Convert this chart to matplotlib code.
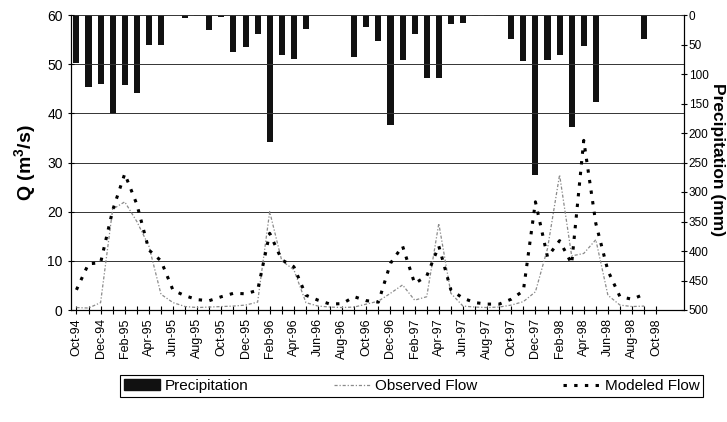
import matplotlib
matplotlib.use("Agg")
import matplotlib.pyplot as plt
from matplotlib.patches import Patch
from matplotlib.lines import Line2D
import numpy as np

plt.rcParams['font.family'] = ['Liberation Sans', 'DejaVu Sans']
plt.rcParams['mathtext.fontset'] = 'custom'
plt.rcParams['mathtext.rm'] = 'Liberation Sans:bold'
plt.rcParams['mathtext.bf'] = 'Liberation Sans:bold'

# Monthly series from Oct-94 to Oct-98
tick_labels = ["Oct-94", "Dec-94", "Feb-95", "Apr-95", "Jun-95", "Aug-95", "Oct-95",
               "Dec-95", "Feb-96", "Apr-96", "Jun-96", "Aug-96", "Oct-96", "Dec-96",
               "Feb-97", "Apr-97", "Jun-97", "Aug-97", "Oct-97", "Dec-97", "Feb-98",
               "Apr-98", "Jun-98", "Aug-98", "Oct-98"]

precip = [81, 122, 117, 167, 118, 132, 50, 50, 0, 5, 2, 25,
          4, 63, 54, 33, 215, 68, 75, 23, 0, 0, 0, 71,
          21, 44, 186, 76, 33, 107, 106, 16, 13, 1, 2, 2,
          41, 78, 271, 76, 68, 190, 52, 147, 0, 0, 0, 40, 0]

observed = [0.5, 0.4, 1.5, 20.5, 22.0, 18.0, 13.0, 3.2, 1.5, 0.7, 0.5, 0.6,
            0.7, 0.8, 1.0, 1.6, 20.0, 10.0, 8.2, 1.5, 0.8, 0.6, 0.5, 0.6,
            1.2, 1.8, 3.4, 5.1, 2.0, 2.7, 17.6, 3.4, 0.8, 0.6, 0.5, 0.6,
            1.0, 1.7, 3.7, 12.5, 27.5, 11.0, 11.5, 14.3, 3.0, 1.0, 0.7, 0.8]

modeled = [4.1, 9.4, 9.6, 20.3, 27.7, 21.5, 12.2, 10.0, 4.0, 2.9, 2.1, 1.9,
           2.7, 3.4, 3.3, 4.0, 15.6, 10.2, 8.8, 3.0, 2.0, 1.2, 1.3, 2.7,
           1.9, 1.6, 9.5, 13.0, 5.4, 6.9, 13.0, 4.1, 2.4, 1.5, 1.2, 1.2,
           2.2, 3.9, 22.0, 10.8, 14.1, 9.4, 34.5, 17.6, 8.0, 2.7, 2.2, 3.2]

OBS_STYLE = (0, (2.5, 1.5, 1, 1.5))
MOD_STYLE = (0, (1.1, 2.4))

fig = plt.figure(figsize=(7.27, 4.22), dpi=100)
ax = fig.add_axes([71/727, 1-310/422, (684-71)/727, (310-15)/422])
ax2 = ax.twinx()

x_p = np.arange(len(precip))
ax2.bar(x_p, precip, width=0.5, color='#111111', bottom=0, align='center')
ax2.set_ylim(500, 0)
ax2.set_yticks(np.arange(0, 501, 50))
ax2.tick_params(axis='y', labelsize=8.5, direction='inout', length=5, width=0.8, pad=1)
fig.text(717.6/727, 1-160/422, "Precipitation (mm)", fontsize=12.5, fontweight='bold',
         rotation=-90, ha='center', va='center')

ax.set_zorder(ax2.get_zorder() + 1)
ax.patch.set_visible(False)

x_q = np.arange(len(observed))
ax.plot(x_q, observed, color='#8a8a8a', lw=0.9, linestyle=OBS_STYLE)
ax.plot(np.arange(len(modeled)), modeled, color='black', lw=2.2,
        linestyle=MOD_STYLE)

ax.set_ylim(0, 60)
ax.set_yticks(np.arange(0, 61, 10))
ax.set_xlim(-0.45, 50.3)
ax.set_xticks(np.arange(0, 49, 1))
labels_all = []
for i in range(49):
    labels_all.append(tick_labels[i // 2] if i % 2 == 0 else "")
ax.set_xticklabels(labels_all, rotation=90, fontsize=9)
ax.tick_params(axis='x', direction='inout', length=6, width=0.8, pad=3)
ax.tick_params(axis='y', labelsize=10, direction='inout', length=5, width=0.8)
ax.set_ylabel("Q (m$^{3}$/s)", fontsize=14, fontweight='bold', labelpad=6)

for q in range(10, 61, 10):
    ax.axhline(q, color='#333333', lw=0.7, zorder=0.5)

for sp in ['top']:
    ax.spines[sp].set_visible(False)
    ax2.spines[sp].set_visible(False)
for a in (ax, ax2):
    for sp in a.spines.values():
        sp.set_linewidth(0.8)

handles = [Patch(facecolor='#111111', edgecolor='#111111'),
           Line2D([], [], color='#8a8a8a', lw=0.9, linestyle=OBS_STYLE),
           Line2D([], [], color='black', lw=2.2, linestyle=MOD_STYLE)]
leg = fig.legend(handles, ["Precipitation", "Observed Flow", "Modeled Flow"],
                 loc='center', bbox_to_anchor=(0.566, 1-386/422), ncol=3,
                 fontsize=11, frameon=True, fancybox=False, edgecolor='black',
                 framealpha=1, handlelength=2.4, columnspacing=5.6,
                 handletextpad=0.3, borderpad=0.25, borderaxespad=0)
leg.get_frame().set_linewidth(0.8)

fig.savefig("out.png", dpi=100)
